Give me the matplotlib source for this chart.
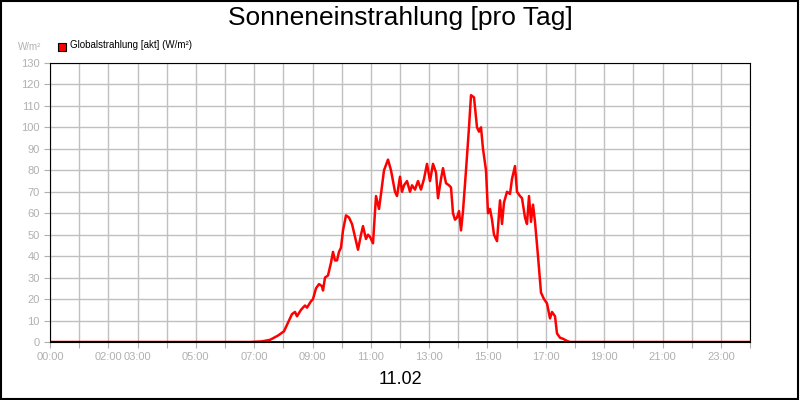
import numpy as np
import matplotlib
matplotlib.use("Agg")
import matplotlib.pyplot as plt
from matplotlib.patches import Rectangle

plt.rcParams['font.family'] = ['Liberation Sans', 'DejaVu Sans']

# pixel-read trace: x pixel -> hour later, value in W/m²
px = [50, 250, 262, 270, 278, 284, 288, 292, 295, 297, 301, 305, 307, 311, 313, 316, 319, 322, 323, 325,
      328, 331, 333, 335, 337, 339, 341, 343, 346, 349, 352, 355, 358, 361, 363, 366, 368, 370, 373,
      376, 379, 381, 384, 388, 391, 395, 397, 400, 402, 404, 407, 410, 412, 415, 418, 421, 424, 427,
      430, 433, 436, 438, 441, 443, 446, 449, 451, 453, 455, 457, 459, 461, 463, 466, 469, 471, 474,
      477, 479, 481, 483, 486, 488, 490, 492, 494, 497, 500, 502, 504, 507, 510, 512, 515, 517, 520,
      522, 525, 527, 529, 531, 533, 535, 538, 541, 544, 547, 550, 552, 555, 557, 560, 563, 567, 570, 750]
values = [0, 0, 0.3, 1, 3, 5, 9, 13, 14, 12, 15, 17, 16, 19, 20, 25, 27, 26, 24, 30,
          31, 37, 42, 38, 38, 42, 44, 52, 59, 58, 55, 49, 43, 50, 54, 48, 50, 49, 46,
          68, 62, 69, 80, 85, 80, 70, 68, 77, 70, 73, 75, 70, 73, 71, 75, 71, 76, 83,
          75, 83, 79, 67, 76, 81, 74, 73, 72, 60, 57, 58, 61, 52, 61, 80, 100, 115, 114,
          100, 98, 100, 90, 80, 60, 62, 57, 50, 47, 66, 55, 65, 70, 69, 76, 82, 70, 68,
          67, 58, 55, 68, 56, 64, 56, 40, 23, 20, 18, 11, 14, 12, 4, 2, 1.5, 0.5, 0, 0]
hours = (np.array(px) - 50) / (700 / 24)

tick_hours = [0, 2, 3, 5, 7, 9, 11, 13, 15, 17, 19, 21, 23]
tick_labels = ['%02d:00' % h for h in tick_hours]
y_ticks = list(range(0, 131, 10))

fig = plt.figure(figsize=(8, 4), dpi=100)
fig.patches.append(Rectangle((0.001, 0.002), 0.997, 0.995, transform=fig.transFigure,
                             fill=False, edgecolor='black', linewidth=1.5))
ax = fig.add_axes([50/800, 58/400, 700/800, 279/400])
ax.set_xlim(0, 24)
ax.set_ylim(0, 130)
ax.set_xticks(range(0, 25), minor=False)
ax.set_xticklabels([('%02d:00' % h) if h in tick_hours else '' for h in range(25)])
ax.set_yticks(y_ticks)
ax.grid(True, color='#c0c0c0', linewidth=1)
ax.tick_params(colors='#b0b0b0', labelcolor='#b0b0b0', labelsize=8, length=4)
for s in ax.spines.values():
    s.set_color('black')
ax.plot(hours, values, color='red', linewidth=1.8)
ax.axhline(0, color='black', linewidth=2)

fig.text(0.5, 0.955, 'Sonneneinstrahlung [pro Tag]', ha='center', va='center', fontsize=19)
fig.text(0.5, 0.05, '11.02', ha='center', va='center', fontsize=13)
fig.text(30/800, 0.882, 'W/m²', ha='center', va='center', fontsize=7, color='#b0b0b0')
fig.patches.append(Rectangle((58/800, 0.873), 8/800, 8/400, transform=fig.transFigure,
                             facecolor='red', edgecolor='black', linewidth=0.8))
fig.text(70/800, 0.888, 'Globalstrahlung [akt] (W/m²)', ha='left', va='center', fontsize=7)

fig.savefig('out.png', dpi=100)
